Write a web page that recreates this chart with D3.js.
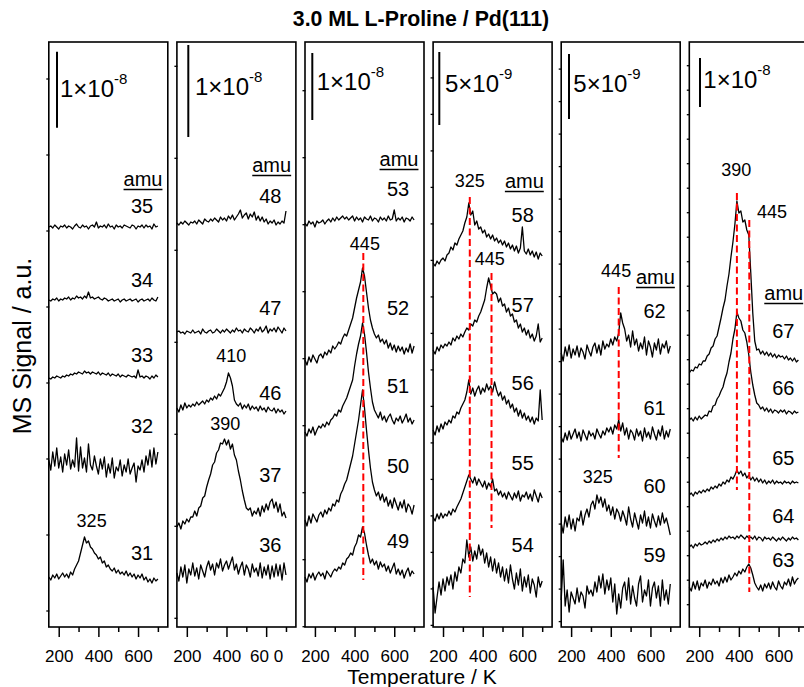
<!DOCTYPE html>
<html><head><meta charset="utf-8">
<script src="https://cdn.jsdelivr.net/npm/d3@7"></script>
<style>body{margin:0;background:#fff}svg{display:block}text{font-family:"Liberation Sans",Arial,Helvetica,sans-serif;fill:#000}</style>
</head><body><svg id="c" width="804" height="687"></svg>
<script>
// ---------------- DATA ----------------
const temps = [150,160,170,180,190,200,210,220,230,240,250,260,270,280,290,300,310,320,330,340,350,360,370,380,390,400,410,420,430,440,450,460,470,480,490,500,510,520,530,540,550,560,570,580,590,600,610,620,630,640,650,660,670,680,690,700];
const xMajor = [200,400,600];
const xMinor = [300,500,700];
const xTickLabels = [["200","400","600"],["200","400","60 0"],["200","400","600"],["200","400","600"],["200","400","600"],["200","400","600"]];
const panelAmu = [[35,34,33,32,31],[48,47,46,37,36],[53,52,51,50,49],[58,57,56,55,54],[62,61,60,59],[67,66,65,64,63]];
// stacking offsets of each trace (a.u.)
const offsets = [[400,327,249,165,50],[404,295,219,100,54],[404,267,195,107,50],[364,277,197,110,40],[274,190,104,27],[254,207,132,80,40]];
const scaleMant = ["1","1","1","5","5","1"];
const scaleExp = ["-8","-8","-8","-9","-9","-8"];
const scaleBarAu = [76,92,67,73,65,49];
const peakTexts = ["325","410","390","445","325","445","445","325","390","445"];
const dashT = [444,335,444.5,440,390,452.5];

const s35=[0,1,-1,2,0,-2,1,0, 2,-1,1,0,-2,1,3,0, -1,2,0,1,-2,1,2,0, 5,-1,1,0,2,-1,3,0, 1,-2,2,0,1,-1,2,1, 0,-1,2,1,-2,1,0,2, -1,2,0,1,-2,3,0,1];
const s34=[0,-1,1,0,2,-1,1,0, 2,1,3,0,2,1,4,2, 3,1,4,2,8,2,3,1, 2,3,1,0,2,1,-1,0, 1,-1,0,1,-2,0,1,-1, 0,1,-1,0,1,-2,0,1, -1,0,1,-1,2,0,-1,3];
const s33=[0,-1,1,0,2,1,0,2, 1,3,2,4,3,5,4,6, 5,4,7,5,6,4,6,5, 4,6,3,5,4,3,5,2, 4,3,2,4,1,3,2,1, 3,2,1,2,0,8,1,2, 0,2,1,-1,2,0,3,1];
const s32=[2,-8,10,-4,14,-6,5,-10, 8,-3,12,-7,2,-5,24,-9, 15,-6,4,-10,18,-3,-8,6, -4,-12,3,-7,5,-15,-2,-11, 4,-16,-5,-9,2,-14,-3,-10, 3,-12,-6,-1,-20,-4,-8,2, -10,6,-3,12,-5,14,-2,10];
const s31=[0,-3,2,-1,3,-2,1,4, 0,3,-1,5,2,8,12,16, 24,32,40,34,36,30,28,24, 22,18,20,14,16,10,12,8, 6,9,4,7,3,5,2,6, 1,4,0,3,-2,2,-1,3, -3,0,-5,-2,-6,-1,-4,-2];

const s48=[0,-2,1,-1,2,0,-2,1, 0,2,-1,3,1,-1,4,2, 1,4,2,5,3,1,6,3, 5,2,7,4,8,3,6,9, 13,5,8,10,4,9,6,11, 3,7,2,6,1,4,-1,2, 0,3,-2,1,-1,2,0,12];
const s47=[0,1,-1,0,-2,1,0,-1, 2,-1,0,1,-2,3,0,-1, 1,2,-1,0,3,1,-1,2, 0,3,1,-1,2,0,4,1, 2,-1,3,1,0,4,2,-1, 3,1,5,0,2,6,-1,3, 1,4,0,5,2,-1,4,1];
const s46=[0,-4,3,-2,5,0,3,1, 4,2,6,3,5,7,4,8, 6,10,8,12,9,14,12,16, 20,26,35,30,22,8,4,2, 5,-1,3,0,4,-2,2,-1, 1,-3,2,-2,0,-4,1,-2, -3,0,-5,-1,-4,-2,-6,-3];
const s37=[0,4,-2,6,3,8,5,10, 10,16,11,19,21,29,31,40, 47,53,62,65,74,77,84,83, 88,82,87,78,83,72,67,56, 47,36,27,19,17,19,11,16, 13,19,11,21,15,23,17,25, 28,19,25,15,23,11,15,9];
const s36=[0,-8,6,-4,8,-10,4,-2, 10,-3,5,-6,8,2,-4,6, 12,3,9,-2,10,5,14,2, 8,12,4,10,16,3,9,-1, 6,11,-2,8,4,-4,9,1, 5,-3,10,-5,6,-2,8,-6, 7,-4,9,-3,8,-7,10,-2];

const s53=[0,-3,2,-1,1,-4,2,0, 1,3,-1,2,4,1,5,2, 6,3,5,7,4,6,3,5, 7,2,6,3,5,1,6,4, 3,7,2,5,4,1,6,3, 5,2,7,3,4,13,2,5, 3,6,1,5,4,2,6,3];
const s52=[0,-5,3,-2,5,1,-3,4, 6,2,8,5,10,7,14,11, 14,18,16,22,26,24,30,36, 42,52,62,70,78,92,84,68, 52,40,32,26,22,25,18,21, 16,20,12,17,10,15,8,14, 9,13,6,12,8,16,7,14];
const s51=[0,-4,3,-1,5,-3,2,6, 4,8,5,10,7,12,14,18, 16,22,20,26,30,34,40,46, 52,66,78,88,96,109,98,80, 60,44,30,22,18,14,20,12, 16,10,15,18,12,8,14,11, 16,9,13,18,10,14,8,12];
const s50=[0,-6,4,-3,6,2,-2,5, 8,3,10,6,12,9,16,14, 20,18,26,30,36,40,48,56, 64,76,88,100,115,130,112,90, 70,52,38,30,24,28,20,26, 18,23,14,20,12,22,16,10, 18,12,20,8,16,13,6,15];
const s49=[0,-5,3,-1,4,-3,2,5, 1,4,-2,6,3,0,5,8, 6,10,8,14,12,18,20,24, 22,30,34,42,40,50,44,32, 22,14,18,12,16,8,15,10, 13,6,11,4,9,14,3,8, 2,7,-1,5,9,1,6,3];

const s58=[0,-3,2,-1,3,5,2,8, 10,16,13,20,18,24,28,32, 40,46,60,48,52,38,42,34, 36,30,33,26,29,24,28,22, 25,20,23,18,22,16,20,14, 18,12,17,10,15,36,12,9, 14,8,12,6,11,4,10,7];
const s57=[0,-4,3,-1,5,2,6,4, 8,5,12,9,14,11,16,13, 18,22,20,26,24,30,28,34, 38,44,50,62,72,64,56,58, 56,48,52,44,46,38,42,34, 36,28,30,22,26,18,22,15, 20,12,16,9,14,26,8,12];
const s56=[0,-5,4,-2,6,1,8,5, 10,7,14,12,18,16,22,26, 30,38,50,36,42,34,40,44, 36,42,38,46,40,44,38,48, 40,34,38,30,34,26,30,22, 26,18,22,14,20,12,17,10, 14,8,13,6,12,9,40,10];
const s55=[0,-4,3,-2,4,-1,3,1, 6,2,8,5,10,14,18,24, 30,36,42,38,34,40,32,38, 34,30,36,28,34,30,38,26, 28,22,26,20,24,18,25,21, 17,24,19,26,16,22,20,25, 18,23,16,27,21,15,24,19];
const s54=[0,-26,-10,5,-8,8,-4,10, 2,12,-2,15,6,20,14,28, 24,47,30,40,26,36,28,42, 32,38,24,34,20,30,16,28, 14,24,10,20,6,18,4,22, 8,-2,14,2,18,-4,10,0, 12,-6,8,2,-10,10,0,6];

const s62=[0,-8,6,-3,8,-5,4,-2, 7,-4,5,1,-6,8,2,-3, 6,10,0,8,-2,12,4,9, 6,14,8,16,12,20,40,30, 24,12,18,6,22,8,14,2, 10,4,16,-2,12,6,-4,10, 3,14,-1,9,5,12,0,7];
const s61=[0,-5,4,-3,6,-2,3,8, -1,5,-4,7,2,-3,6,1, 4,-2,8,3,-1,6,2,9, 5,10,3,12,8,17,6,14, 2,9,-2,7,4,-3,8,1, 6,-4,9,0,5,-2,10,3, -3,7,1,11,-2,6,0,8];
const s60=[0,-10,6,-4,8,-6,4,-8, 5,2,12,-2,8,14,6,18, 22,14,28,20,26,16,24,12, 18,8,16,4,14,10,2,12, 6,-2,16,4,-4,10,2,-6, 8,0,12,-3,6,-5,9,2, -4,7,-2,10,0,5,-3,-12];
const s59=[0,40,-6,10,-12,8,2,-4, 12,-2,8,4,-8,14,6,10, 4,18,8,24,12,26,6,20, 10,22,-2,16,-14,6,-8,12, 18,0,22,-4,14,2,-6,16, 24,-2,10,4,20,-6,12,18, 2,14,-6,20,0,10,-4,16];

const s67=[0,3,2,6,5,9,8,12, 12,17,19,25,27,34,37,46, 55,65,73,87,99,116,131,149, 172,160,162,151,153,143,138,100, 60,32,23,24,19,22,18,21, 17,20,16,19,15,18,16,17, 14,17,13,15,12,15,11,13];
const s66=[0,2,-1,3,0,4,1,3, 5,4,9,8,14,15,21,24, 29,33,41,47,58,67,81,91, 108,102,99,90,87,78,65,48, 35,25,17,15,11,13,9,12, 8,11,7,10,9,7,10,8, 10,6,9,8,6,9,7,8];
const s65=[0,2,-1,3,1,4,2,5, 3,6,4,8,6,9,7,11, 9,13,11,15,13,18,16,20, 25,21,24,19,22,17,20,15, 18,14,17,13,16,12,15,11, 14,12,15,11,14,12,13,11, 14,12,13,11,14,12,13,12];
const s64=[0,2,-1,3,1,4,2,3, 5,3,6,4,7,5,8,6, 9,7,10,8,11,9,10,8, 11,9,12,10,8,11,9,10, 8,11,7,10,9,6,10,8, 9,7,10,8,6,9,7,10, 8,6,9,7,10,8,9,7];
const s63=[0,-4,5,-2,6,-3,4,1, 7,-1,5,2,8,3,6,1, 9,4,10,5,12,7,10,14, 11,16,13,18,15,20,23,19, 12,4,0,-3,2,-4,3,-1, 4,-2,5,0,-3,6,1,-2, 5,2,8,1,10,3,7,9];

const series = {35:s35,34:s34,33:s33,32:s32,31:s31,48:s48,47:s47,46:s46,37:s37,36:s36,
  53:s53,52:s52,51:s51,50:s50,49:s49,58:s58,57:s57,56:s56,55:s55,54:s54,
  62:s62,61:s61,60:s60,59:s59,67:s67,66:s66,65:s65,64:s64,63:s63};

// ---------------- LAYOUT ----------------
const panelLefts = [48.8,176.9,305,433.1,561.2,689.3];
const PW = 119, TOP = 42, BOT = 627;
const labelT = [620,621,619,602,621,624];
const labelAu = [[414,340,265,194,67],[424,312,227,145,75],[431,312,234,154,79],[405,315,237,157,75],[309,212,134,65],[289,232,162,104,60]];
const amuPos = [{T:625,au:441,a:"middle"},{T:628,au:455,a:"middle"},{T:624,au:461,a:"middle"},{T:610,au:439,a:"middle"},{T:625,au:343,a:"middle"},{T:528,au:327,a:"start"}];
const peakPos = [{p:0,T:366,au:100},{p:1,T:424,au:265},{p:1,T:394,au:197},{p:2,T:452,au:377},{p:3,T:335,au:440},{p:3,T:436,au:362},{p:4,T:427,au:350},{p:4,T:334,au:144},{p:5,T:387,au:451},{p:5,T:567,au:409}];
const dashPos = [{p:2,a:374,b:47},{p:3,a:430,b:30},{p:3,a:354,b:99},{p:4,a:340,b:169},{p:5,a:434,b:137},{p:5,a:407,b:35}];
const barDx = [8.2,11.4,7.3,6.2,7.8,10.7];
const barTopAu = [575.3,582,574,575,573,569];
const barLblDx = [11.2,18.1,11.7,11.9,12.1,14];
const barLblY = [97,95,90,92,92,88];
const yTickPhase = [16,8.7,0.3,1.6,5.4,22.3];
const yTickFrac = [1,1,1,0.5,0.5,0.5];

const svg = d3.select("#c");
const y = d3.scaleLinear().domain([0,585]).range([BOT,TOP]);

svg.append("text").attr("x",421).attr("y",26).attr("text-anchor","middle")
  .attr("font-size",21.3).attr("font-weight","bold").text("3.0 ML L-Proline / Pd(111)");
svg.append("text").attr("transform","translate(31,346) rotate(-90)").attr("text-anchor","middle")
  .attr("font-size",25).text("MS Signal / a.u.");
svg.append("text").attr("x",422).attr("y",684).attr("text-anchor","middle")
  .attr("font-size",21).text("Temperature / K");

const xs = panelLefts.map(l => d3.scaleLinear().domain([150,750]).range([l, l+PW]));

panelAmu.forEach((amus,p) => {
  const x = xs[p];
  const g = svg.append("g");
  const L = panelLefts[p];
  amus.forEach((a,k) => {
    const off = offsets[p][k];
    const line = d3.line().x((d,i) => x(temps[i])).y(d => y(off + d));
    g.append("path").attr("d", line(series[a])).attr("fill","none")
      .attr("stroke","#000").attr("stroke-width",1.3).attr("stroke-linejoin","round");
    g.append("text").attr("x", x(labelT[p])).attr("y", y(labelAu[p][k]))
      .attr("text-anchor","middle").attr("font-size",20).text(a);
  });
  g.append("rect").attr("x",L).attr("y",TOP).attr("width",PW).attr("height",BOT-TOP)
    .attr("fill","none").attr("stroke","#000").attr("stroke-width",1.6);
  const sp = scaleBarAu[p]*yTickFrac[p];
  const yt = [];
  for (let v = yTickPhase[p]; v < 585; v += sp) yt.push(v);
  g.selectAll(".yt").data(yt).enter().append("line")
    .attr("x1",L-2.5).attr("x2",L+0.5).attr("y1",d=>y(d)).attr("y2",d=>y(d))
    .attr("stroke","#000").attr("stroke-width",1.3);
  const axMaj = d3.axisBottom(x).tickValues(xMajor).tickSize(10).tickPadding(13)
    .tickFormat((d,i) => xTickLabels[p][i]);
  const ga = g.append("g").attr("transform",`translate(0,${BOT})`).call(axMaj);
  ga.select(".domain").remove();
  ga.selectAll("line").attr("stroke-width",1.5);
  ga.selectAll("text").attr("font-size",17).attr("font-family",'"Liberation Sans",Arial,sans-serif').attr("fill","#000");
  const gm = g.append("g").attr("transform",`translate(0,${BOT})`)
    .call(d3.axisBottom(x).tickValues(xMinor).tickSize(5).tickFormat(""));
  gm.select(".domain").remove();
  gm.selectAll("line").attr("stroke-width",1.5);
  g.append("line").attr("x1",L+barDx[p]).attr("x2",L+barDx[p])
    .attr("y1",y(barTopAu[p])).attr("y2",y(barTopAu[p]-scaleBarAu[p]))
    .attr("stroke","#000").attr("stroke-width",2);
  const st = g.append("text").attr("x",L+barLblDx[p]).attr("y",barLblY[p]).attr("font-size",24);
  st.append("tspan").text(scaleMant[p] + "\u00d710");
  st.append("tspan").attr("dy",-13).attr("font-size",15).text(scaleExp[p]);
  const ap = amuPos[p];
  const at = g.append("text").attr("x",x(ap.T)).attr("y",y(ap.au)).attr("text-anchor",ap.a)
    .attr("font-size",20).text("amu");
  const bb = at.node().getBBox();
  g.append("line").attr("x1",bb.x).attr("x2",bb.x+bb.width)
    .attr("y1",y(ap.au)+3.5).attr("y2",y(ap.au)+3.5).attr("stroke","#000").attr("stroke-width",1.6);
});

dashPos.forEach((d,i) => {
  const x = xs[d.p];
  svg.append("line").attr("x1",x(dashT[i])).attr("x2",x(dashT[i]))
    .attr("y1",y(d.a)).attr("y2",y(d.b))
    .attr("stroke","#ff0000").attr("stroke-width",2).attr("stroke-dasharray","7,3.5");
});
peakPos.forEach((d,i) => {
  svg.append("text").attr("x",xs[d.p](d.T)).attr("y",y(d.au)).attr("text-anchor","middle")
    .attr("font-size",18).text(peakTexts[i]);
});
</script></body></html>
